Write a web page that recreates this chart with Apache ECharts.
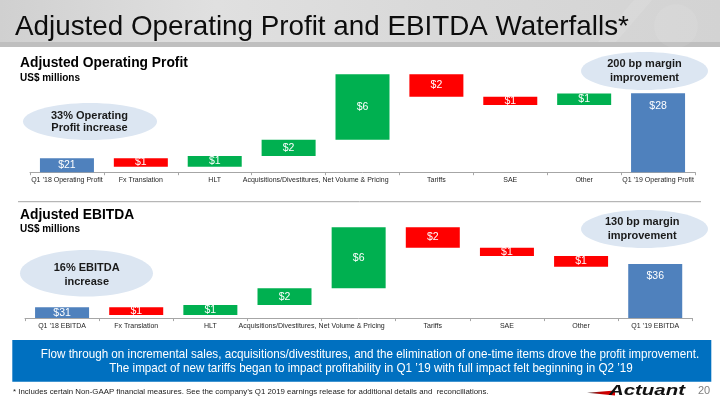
<!DOCTYPE html>
<html><head><meta charset="utf-8">
<script src="https://cdn.jsdelivr.net/npm/echarts@6/dist/echarts.min.js"></script>
<style>html,body{margin:0;padding:0;background:#fff}#c{width:720px;height:405px}</style>
</head><body><div id="c"></div>
<script>
// ---- data ----
const opCategories = ["Q1 \u201918 Operating Profit", "Fx Translation", "HLT", "Acquisitions/Divestitures,", "Net Volume & Pricing", "Tariffs", "SAE", "Other", "Q1 \u201919 Operating Profit"];
const opStart = 21;
const opChanges = [-0.91, 1.15, 1.76, 7.04, -2.41, -0.89, 1.25];
const opEnd = 28;
const opLabels = ["$21", "$1", "$1", "$2", "$6", "$2", "$1", "$1", "$28"];

const ebCategories = ["Q1 \u201918 EBITDA", "Fx Translation", "HLT", "Acquisitions/Divestitures,", "Net Volume & Pricing", "Tariffs", "SAE", "Other", "Q1 \u201919 EBITDA"];
const ebStart = 31;
const ebChanges = [-0.89, 1.15, 1.93, 7.03, -2.35, -0.96, -1.23];
const ebEnd = 36;
const ebLabels = ["$31", "$1", "$1", "$2", "$6", "$2", "$1", "$1", "$36"];

const opMin = 19.5, opMax = 31.5;
const ebMin = 29.75, ebMax = 42.0;

// ---- styles ----
const BLUE = '#4F81BD', RED = '#FF0000', GREEN = '#00B050';
const FONT = '"Liberation Sans", Arial, sans-serif';

function waterfall(start, changes, end, yMin) {
  const base = [], vis = [];
  base.push(yMin);
  vis.push({ value: start - yMin, itemStyle: { color: BLUE }, label: { position: 'inside' } });
  let cum = start;
  changes.forEach(d => {
    const next = cum + d;
    base.push(Math.min(cum, next));
    vis.push({ value: Math.abs(d), itemStyle: { color: d < 0 ? RED : GREEN } });
    cum = next;
  });
  base.push(yMin);
  vis.push({ value: end - yMin, itemStyle: { color: BLUE }, label: { position: 'insideTop', distance: 7 } });
  return { base, vis };
}
const op = waterfall(opStart, opChanges, opEnd, opMin);
const eb = waterfall(ebStart, ebChanges, ebEnd, ebMin);

function xAxisCfg(gridIndex, cats) {
  return {
    type: 'category', gridIndex, data: cats,
    axisLine: { lineStyle: { color: '#A6A6A6', width: 1 } },
    axisTick: { show: true, length: 3, lineStyle: { color: '#A6A6A6' } },
    axisLabel: {
      interval: 0, fontSize: 7, color: '#262626', fontFamily: FONT, margin: 4,
      formatter: (v, i) => (i === 3 || i === 4) ? '{s|' + v + '}' : v,
      rich: { s: { padding: [0, 14, 0, 0], fontSize: 7, color: '#262626', fontFamily: FONT } }
    }
  };
}
function barSeries(idx, stack, w, labels) {
  return [
    { type: 'bar', xAxisIndex: idx, yAxisIndex: idx, stack, data: w.base, barWidth: 54,
      itemStyle: { color: 'rgba(0,0,0,0)' }, silent: true, label: { show: false } },
    { type: 'bar', xAxisIndex: idx, yAxisIndex: idx, stack, data: w.vis, barWidth: 54,
      label: { show: true, position: 'inside', color: '#fff', fontSize: 10.5, fontFamily: FONT,
        formatter: p => labels[p.dataIndex] } }
  ];
}

function txt(x, y, text, font, fill, align, styleExtra, elExtra) {
  return Object.assign({ type: 'text', x, y, z: 10,
    style: Object.assign({ text, font, fill, align: align || 'left', verticalAlign: 'middle' }, styleExtra || {}) }, elExtra || {});
}

const chart = echarts.init(document.getElementById('c'), null, { renderer: 'canvas' });
chart.setOption({
  animation: false,
  grid: [
    { left: 30, right: 25, top: 60.8, height: 111.4, outerBoundsMode: 'none' },
    { left: 25, right: 27.7, top: 211.9, height: 106.2, outerBoundsMode: 'none' }
  ],
  xAxis: [xAxisCfg(0, opCategories), xAxisCfg(1, ebCategories)],
  yAxis: [
    { type: 'value', gridIndex: 0, min: opMin, max: opMax, show: false, splitLine: { show: false } },
    { type: 'value', gridIndex: 1, min: ebMin, max: ebMax, show: false, splitLine: { show: false } }
  ],
  series: [...barSeries(0, 'op', op, opLabels), ...barSeries(1, 'eb', eb, ebLabels)],
  graphic: { elements: [
    { type: 'rect', shape: { x: 0, y: 0, width: 720, height: 42 }, z: 1,
      style: { fill: new echarts.graphic.LinearGradient(0, 0, 1, 0, [
        { offset: 0, color: '#D0D0D0' }, { offset: 0.3, color: '#E0E0E0' },
        { offset: 0.6, color: '#D9D9D9' }, { offset: 1, color: '#D3D3D3' }]) } },
    { type: 'polygon', z: 2, shape: { points: [[598, 42], [634, 0], [652, 0], [616, 42]] }, style: { fill: 'rgba(255,255,255,0.10)' } },
    { type: 'circle', z: 2, shape: { cx: 676, cy: 26, r: 22 }, style: { fill: 'rgba(255,255,255,0.07)' } },
    { type: 'rect', shape: { x: 0, y: 42, width: 720, height: 5 }, z: 1, style: { fill: '#BFBFBF' } },
    txt(15, 27.3, 'Adjusted Operating Profit and EBITDA Waterfalls*', '27.8px ' + FONT, '#0D0D0D'),

    txt(20, 63, 'Adjusted Operating Profit', 'bold 13.8px ' + FONT, '#000'),
    txt(20, 78.5, 'US$ millions', 'bold 10px ' + FONT, '#000'),
    txt(20, 214.8, 'Adjusted EBITDA', 'bold 13.8px ' + FONT, '#000'),
    txt(20, 229.5, 'US$ millions', 'bold 10px ' + FONT, '#000'),

    { type: 'line', z: 2, shape: { x1: 18, y1: 201.7, x2: 701, y2: 201.7 }, style: { stroke: '#A6A6A6', lineWidth: 1 } },

    { type: 'ellipse', z: 5, shape: { cx: 90, cy: 121.5, rx: 67, ry: 18.5 }, style: { fill: '#DCE6F2' } },
    txt(89.5, 122.2, '33% Operating\nProfit increase', 'bold 11px ' + FONT, '#1A1A1A', 'center', { lineHeight: 12.5 }),
    { type: 'ellipse', z: 5, shape: { cx: 644.5, cy: 71, rx: 63.5, ry: 19 }, style: { fill: '#DCE6F2' } },
    txt(644.5, 70.8, '200 bp margin\nimprovement', 'bold 11px ' + FONT, '#1A1A1A', 'center', { lineHeight: 13.5 }),
    { type: 'ellipse', z: 5, shape: { cx: 86.5, cy: 273.3, rx: 66.5, ry: 23.3 }, style: { fill: '#DCE6F2' } },
    txt(86.7, 274.7, '16% EBITDA\nincrease', 'bold 11px ' + FONT, '#1A1A1A', 'center', { lineHeight: 14 }),
    { type: 'ellipse', z: 5, shape: { cx: 644.5, cy: 229, rx: 63.5, ry: 19 }, style: { fill: '#DCE6F2' } },
    txt(642.2, 228.7, '130 bp margin\nimprovement', 'bold 11px ' + FONT, '#1A1A1A', 'center', { lineHeight: 14 }),

    { type: 'rect', z: 2, shape: { x: 12.3, y: 340, width: 699, height: 41.7 }, style: { fill: '#0070C0' } },
    txt(370, 354.3, 'Flow through on incremental sales, acquisitions/divestitures, and the elimination of one-time items drove the profit improvement.', '12.4px ' + FONT, '#fff', 'center', null, { scaleX: 0.94 }),
    txt(371, 368.3, 'The impact of new tariffs began to impact profitability in Q1 \u201919 with full impact felt beginning in Q2 \u201919', '12.4px ' + FONT, '#fff', 'center', null, { scaleX: 0.94 }),

    txt(13, 391.7, '* Includes certain Non-GAAP financial measures. See the company\u2019s Q1 2019 earnings release for additional details and  reconciliations.', '7.85px ' + FONT, '#1A1A1A'),

    { type: 'polygon', z: 3, shape: { points: [[587, 392.8], [615, 390.6], [615, 395.4]] },
      style: { fill: new echarts.graphic.LinearGradient(0, 0, 1, 0, [{ offset: 0, color: '#444' }, { offset: 0.5, color: '#C00000' }, { offset: 1, color: '#E00000' }]) } },
    { type: 'text', z: 4, x: 609, y: 390.5, scaleX: 1.36, style: { text: 'Actuant', font: 'italic bold 15px ' + FONT, fill: '#111', align: 'left', verticalAlign: 'middle' } },
    txt(698, 390.7, '20', '11px ' + FONT, '#7F7F7F')
  ] }
});
</script></body></html>
